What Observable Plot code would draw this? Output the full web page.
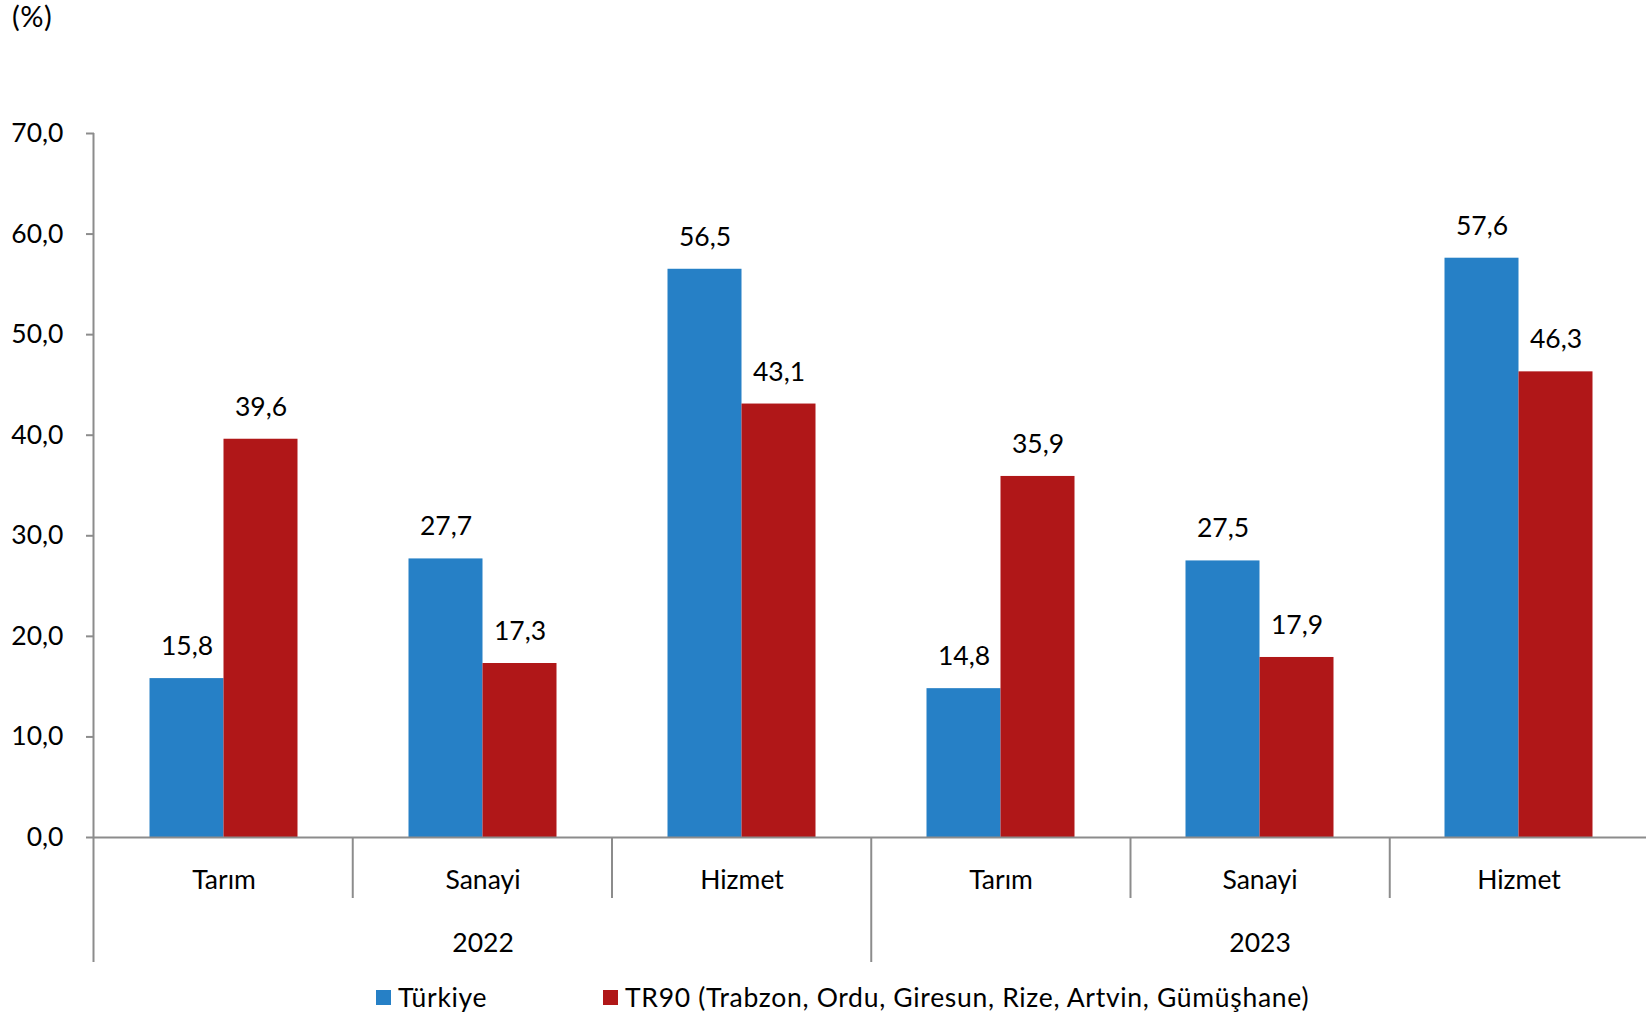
<!DOCTYPE html>
<html><head><meta charset="utf-8">
<script src="https://cdn.jsdelivr.net/npm/d3@7"></script>
<script src="https://cdn.jsdelivr.net/npm/@observablehq/plot@0.6"></script>
<style>
body{margin:0;background:#fff;font-family:Lato,sans-serif;overflow:hidden;width:1646px;height:1017px;color:#000}
#unit{height:36px;font-size:29px;line-height:32px;padding-left:12px;letter-spacing:0.5px}
#chart svg{display:block}
#legend{position:relative;height:44px;font-size:26.5px;letter-spacing:0.7px}
.item{position:absolute;top:0;height:44px;display:flex;align-items:center;white-space:nowrap}
.sw{width:15px;height:15px;margin-right:7px}
</style></head><body>
<div id="unit">(%)</div>
<div id="chart"></div>
<div id="legend"></div>
<script>
const years = ["2022", "2023"];
const sectors = ["Tarım", "Sanayi", "Hizmet"];
const seriesNames = ["Türkiye", "TR90 (Trabzon, Ordu, Giresun, Rize, Artvin, Gümüşhane)"];
const turkiye = [15.8, 27.7, 56.5, 14.8, 27.5, 57.6];
const tr90 = [39.6, 17.3, 43.1, 35.9, 17.9, 46.3];
const colors = ["#2680C6", "#B01718"];
const yTicks = [0, 10, 20, 30, 40, 50, 60, 70];
const legendLeft = [376, 603];

const axisColor = "#8c8c8c";
const fmt = v => v.toFixed(1).replace(".", ",");
const keys = [];
const rows = [];
years.forEach((yr, i) => sectors.forEach((s, j) => {
  const key = yr + "|" + s;
  keys.push(key);
  const k = i * sectors.length + j;
  rows.push({key, series: seriesNames[0], value: turkiye[k]});
  rows.push({key, series: seriesNames[1], value: tr90[k]});
}));
const yearRows = years.map(yr => ({key: yr + "|" + sectors[1], year: yr}));

const chart = Plot.plot({
  width: 1646, height: 939,
  marginTop: 97, marginBottom: 138, marginLeft: 93.5, marginRight: -3,
  style: {fontFamily: "Lato, sans-serif", fontSize: "26.5px", color: "#000", background: "#fff", overflow: "visible"},
  fx: {domain: keys, padding: 0, label: null},
  x: {domain: seriesNames, paddingInner: 0, paddingOuter: 0.734, axis: null},
  y: {domain: [0, 70], label: null},
  color: {domain: seriesNames, range: colors},
  marks: [
    Plot.barY(rows, {fx: "key", x: "series", y: "value", fill: "series"}),
    Plot.ruleY([0], {stroke: axisColor, strokeWidth: 2}),
    Plot.axisY({ticks: yTicks, tickSize: 8, tickPadding: 23, tickFormat: fmt, stroke: axisColor, strokeWidth: 2, label: null}),
    Plot.axisFx({anchor: "bottom", tickSize: 0, tickPadding: 33, tickFormat: d => d.split("|")[1], label: null}),
    Plot.text(rows, {fx: "key", x: "series", y: "value", text: d => fmt(d.value), dy: -32}),
    Plot.text(yearRows, {fx: "key", text: "year", frameAnchor: "bottom", dy: 114})
  ]
});
document.getElementById("chart").appendChild(chart);

// separators from the library's scales
const sfx = chart.scale("fx"), sy = chart.scale("y");
const band = d3.scaleBand(sfx.domain, sfx.range)
  .paddingInner(sfx.paddingInner ?? 0).paddingOuter(sfx.paddingOuter ?? 0).align(sfx.align ?? 0.5);
const yS = d3.scaleLinear(sy.domain, sy.range);
const y0 = yS(0);
const g = d3.select(chart).append("g").attr("stroke", axisColor).attr("stroke-width", 2);
keys.forEach((k, i) => {
  const x = band(k);
  const yearStart = i % sectors.length === 0;
  g.append("line").attr("x1", x).attr("x2", x)
    .attr("y1", i === 0 ? yS(yTicks[yTicks.length - 1]) : y0)
    .attr("y2", y0 + (yearStart ? 125 : 61));
});
const xr = band(keys[keys.length - 1]) + band.bandwidth();
g.append("line").attr("x1", xr).attr("x2", xr).attr("y1", y0).attr("y2", y0 + 125);

// legend
const legend = d3.select("#legend");
seriesNames.forEach((name, i) => {
  const it = legend.append("div").attr("class", "item").style("left", legendLeft[i] + "px");
  it.append("div").attr("class", "sw").style("background", colors[i]);
  it.append("span").text(name);
});
</script>
</body></html>
